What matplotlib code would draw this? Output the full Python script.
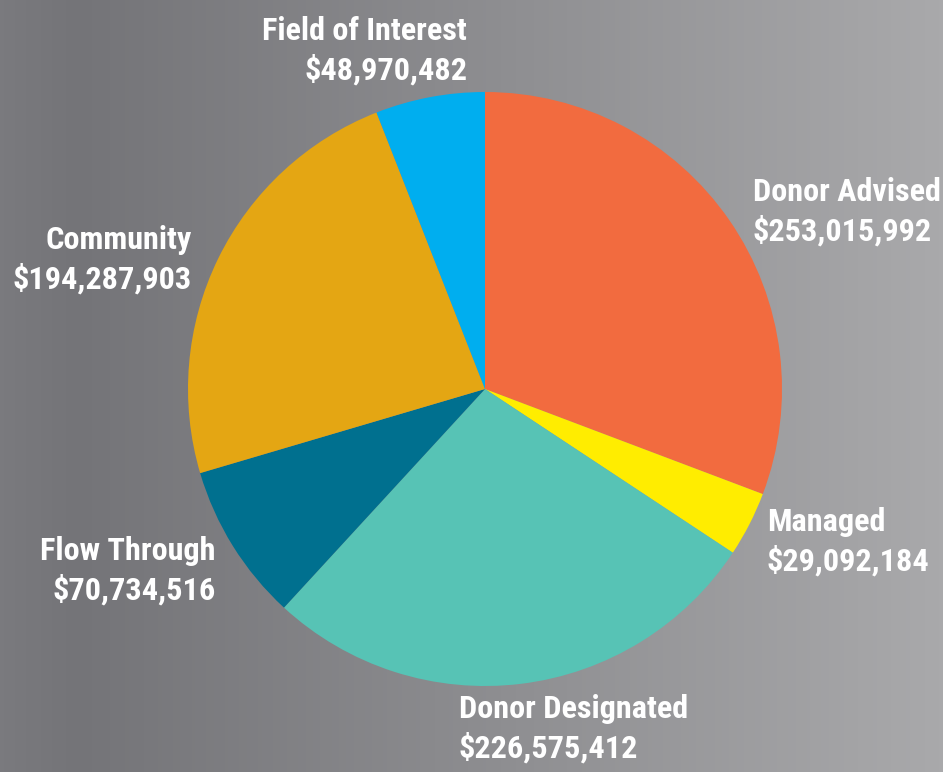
import matplotlib
matplotlib.use('Agg')
import matplotlib.pyplot as plt
import numpy as np
from matplotlib import font_manager as fm
from matplotlib.colors import LinearSegmentedColormap

labels = ['Donor Advised', 'Managed', 'Donor Designated', 'Flow Through',
          'Community', 'Field of Interest']
values = [253015992, 29092184, 226575412, 70734516, 194287903, 48970482]
colors = ['#F26B3F', '#FFED00', '#57C3B5', '#00708F', '#E4A613', '#00AEEF']

W, H = 943, 772

# pick a condensed bold face that is installed
available = set(f.name for f in fm.fontManager.ttflist)
font = 'DejaVu Sans'
for cand in ['Roboto Condensed', 'Barlow Condensed', 'Sofia Sans Condensed',
             'Saira SemiCondensed']:
    if cand in available:
        font = cand
        break

fig = plt.figure(figsize=(W / 100, H / 100), dpi=100)
ax = fig.add_axes([0, 0, 1, 1])

# background gradient, dark left -> light right
bg = LinearSegmentedColormap.from_list(
    'bg', [(0, '#7a7a7e'), (0.08, '#747478'), (1, '#a9a9ab')])
grad = np.vstack([np.linspace(0, 1, 256), np.linspace(0, 1, 256)])
ax.imshow(grad, cmap=bg, extent=[0, W, 0, H], aspect='auto', zorder=0)

ax.pie(values, colors=colors, startangle=90, counterclock=False,
       center=(485, H - 389), radius=297, frame=True,
       wedgeprops=dict(linewidth=0, zorder=2))
ax.set_xlim(0, W)
ax.set_ylim(0, H)
ax.set_aspect('equal')
ax.axis('off')

# label layout: (x, y of first line in pixels from top, alignment)
label_pos = {
    'Donor Advised': (753, 192, 'left'),
    'Managed': (767, 522, 'left'),
    'Donor Designated': (459, 709, 'left'),
    'Flow Through': (216, 551, 'right'),
    'Community': (192, 240, 'right'),
    'Field of Interest': (467, 31, 'right'),
}
for name, val in zip(labels, values):
    x, y, ha = label_pos[name]
    ax.text(x, H - y, name, ha=ha, va='center', color='white',
            fontsize=23.2, fontweight='bold', family=font, zorder=3)
    ax.text(x, H - y - 39, '${:,}'.format(val), ha=ha, va='center',
            color='white', fontsize=23.2, fontweight='bold', family=font,
            zorder=3)

fig.savefig('out.png', dpi=100)
